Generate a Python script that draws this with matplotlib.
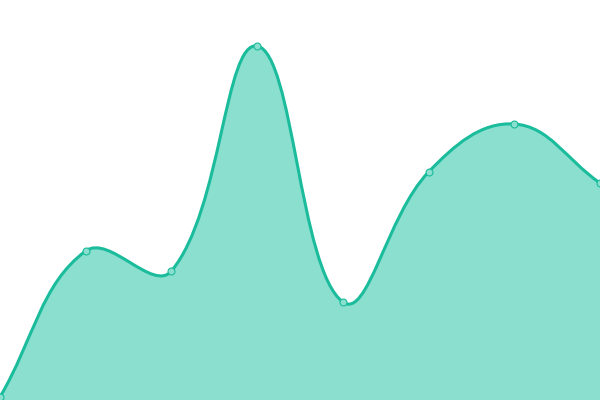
import numpy as np
import matplotlib
matplotlib.use("Agg")
import matplotlib.pyplot as plt
from matplotlib.path import Path
from matplotlib.patches import PathPatch

# data (y axis 0..400)
labels = ["A", "B", "C", "D", "E", "F", "G", "H"]
values = [3, 149, 129, 354, 98, 228, 276, 217]

line_col = "#1abc9c"
fill_col = "#8adfcf"
tension = 0.4

fig = plt.figure(figsize=(6, 4), dpi=100)
ax = fig.add_axes([0, 0, 1, 1])
ax.set_xlim(0, len(labels) - 1)
ax.set_ylim(0, 400)
ax.axis("off")

# work in pixel space so the spline looks like a chart.js one
xs = np.arange(len(labels))
pts = ax.transData.transform(np.column_stack([xs, values]))


def spline_ctrl(p0, p1, p2, t):
    d01 = np.hypot(*(p1 - p0))
    d12 = np.hypot(*(p2 - p1))
    s01 = d01 / (d01 + d12) if d01 + d12 else 0
    s12 = d12 / (d01 + d12) if d01 + d12 else 0
    fa = t * s01
    fb = t * s12
    prev = p1 - fa * (p2 - p0)
    nxt = p1 + fb * (p2 - p0)
    return prev, nxt


n = len(pts)
cprev, cnext = [], []
for i in range(n):
    p0 = pts[max(i - 1, 0)]
    p2 = pts[min(i + 1, n - 1)]
    a, b = spline_ctrl(p0, pts[i], p2, tension)
    cprev.append(a)
    cnext.append(b)

inv = ax.transData.inverted()
verts = [pts[0]]
codes = [Path.MOVETO]
for i in range(n - 1):
    verts += [cnext[i], cprev[i + 1], pts[i + 1]]
    codes += [Path.CURVE4] * 3
verts = inv.transform(np.array(verts))

line_path = Path(verts, codes)
fill_verts = np.vstack([verts, [[xs[-1], 0], [xs[0], 0], verts[0]]])
fill_codes = codes + [Path.LINETO, Path.LINETO, Path.CLOSEPOLY]
fill_path = Path(fill_verts, fill_codes)

ax.add_patch(PathPatch(fill_path, facecolor=fill_col, edgecolor="none"))
ax.add_patch(PathPatch(line_path, facecolor="none", edgecolor=line_col,
                       linewidth=2.2, capstyle="round", joinstyle="round"))
ax.plot(xs, values, "o", ms=5, mfc=fill_col, mec=line_col, mew=0.8,
        clip_on=False, zorder=5)

fig.savefig("out.png", dpi=100)
